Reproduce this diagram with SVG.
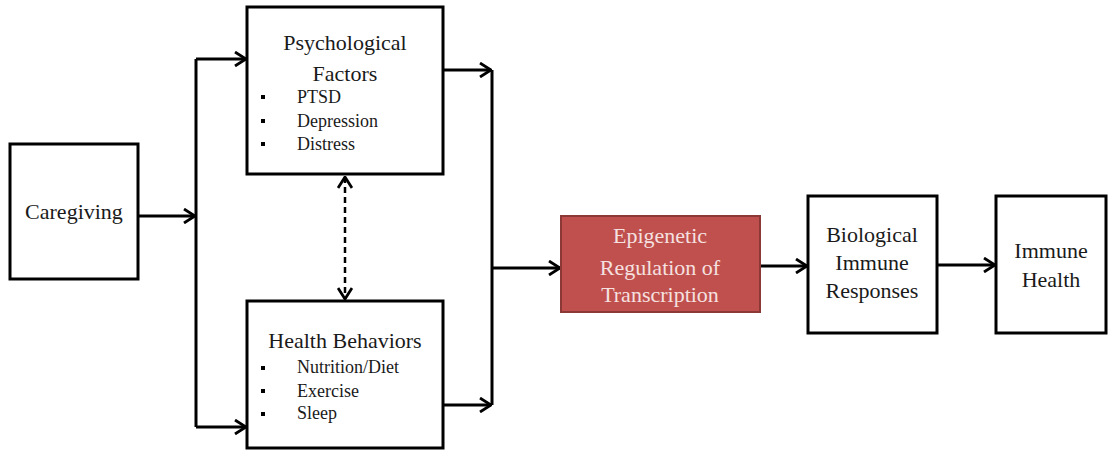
<svg xmlns="http://www.w3.org/2000/svg" width="1110" height="450" viewBox="0 0 1110 450">
<style>
.box{fill:#ffffff;stroke:#000000;stroke-width:3}
.red{fill:#C0504D;stroke:#8C3836;stroke-width:2}
.lbl{font-family:'Liberation Serif','DejaVu Serif',serif;font-size:22px;fill:#1a1a1a;text-anchor:middle}
.wl{fill:#F5E1E0}
.itm{font-family:'Liberation Serif','DejaVu Serif',serif;font-size:18px;fill:#1a1a1a}
.bul{fill:#000000}
.con{fill:none;stroke:#000000;stroke-width:3}
.dash{fill:none;stroke:#000000;stroke-width:2.5;stroke-dasharray:6 4}
</style>
<defs>
<marker id="ah" viewBox="0 0 14 16" refX="13" refY="8" markerWidth="14" markerHeight="16" markerUnits="userSpaceOnUse" orient="auto-start-reverse">
<path d="M2,1 L13,8 L2,15" fill="none" stroke="#000" stroke-width="2.8"/>
</marker>
</defs>
<rect width="1110" height="450" fill="#ffffff"/>
<g id="connectors">
<line class="con" x1="138" y1="216" x2="195" y2="216" marker-end="url(#ah)"/>
<polyline class="con" points="196,59 196,427"/>
<line class="con" x1="196" y1="59" x2="246" y2="59" marker-end="url(#ah)"/>
<line class="con" x1="196" y1="427" x2="246" y2="427" marker-end="url(#ah)"/>
<line class="con" x1="443" y1="70" x2="491" y2="70" marker-end="url(#ah)"/>
<line class="con" x1="443" y1="405" x2="491" y2="405" marker-end="url(#ah)"/>
<polyline class="con" points="492,70 492,405"/>
<line class="con" x1="492" y1="268" x2="560" y2="268" marker-end="url(#ah)"/>
<line class="dash" x1="345" y1="177" x2="345" y2="299" marker-start="url(#ah)" marker-end="url(#ah)"/>
<line class="con" x1="761" y1="266" x2="807" y2="266" marker-end="url(#ah)"/>
<line class="con" x1="938" y1="265" x2="995" y2="265" marker-end="url(#ah)"/>
</g>
<g id="caregiving">
<rect class="box" x="10" y="144" width="128" height="135"/>
<text class="lbl" x="74" y="219">Caregiving</text>
</g>
<g id="psychological">
<rect class="box" x="247" y="7" width="196" height="167"/>
<text class="lbl" x="345" y="50">Psychological</text>
<text class="lbl" x="345" y="81">Factors</text>
<rect class="bul" x="261" y="95" width="4" height="4"/>
<rect class="bul" x="261" y="119" width="4" height="4"/>
<rect class="bul" x="261" y="142" width="4" height="4"/>
<text class="itm" x="297" y="103">PTSD</text>
<text class="itm" x="297" y="127">Depression</text>
<text class="itm" x="297" y="150">Distress</text>
</g>
<g id="health-behaviors">
<rect class="box" x="247" y="301" width="196" height="147"/>
<text class="lbl" x="345" y="348">Health Behaviors</text>
<rect class="bul" x="261" y="366" width="4" height="4"/>
<rect class="bul" x="261" y="389" width="4" height="4"/>
<rect class="bul" x="261" y="412" width="4" height="4"/>
<text class="itm" x="297" y="373">Nutrition/Diet</text>
<text class="itm" x="297" y="397">Exercise</text>
<text class="itm" x="297" y="419">Sleep</text>
</g>
<g id="epigenetic">
<rect class="red" x="561" y="216" width="199" height="96"/>
<text class="lbl wl" x="660" y="243">Epigenetic</text>
<text class="lbl wl" x="660" y="275">Regulation of</text>
<text class="lbl wl" x="660" y="302">Transcription</text>
</g>
<g id="biological">
<rect class="box" x="808" y="196" width="129" height="137"/>
<text class="lbl" x="872" y="242">Biological</text>
<text class="lbl" x="872" y="270">Immune</text>
<text class="lbl" x="872" y="298">Responses</text>
</g>
<g id="immune-health">
<rect class="box" x="996" y="196" width="110" height="137"/>
<text class="lbl" x="1051" y="258">Immune</text>
<text class="lbl" x="1051" y="287">Health</text>
</g>
</svg>
